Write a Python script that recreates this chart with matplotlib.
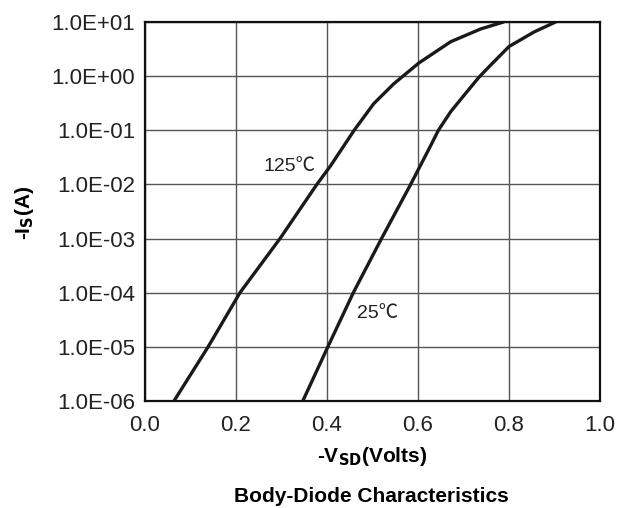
"""
Body-diode forward characteristics: -Is vs -Vsd at 25C and 125C.
"""

import numpy as np
import matplotlib.pyplot as plt

plt.rcParams["font.family"] = ["Liberation Sans", "DejaVu Sans"]

# curve readings (volts, amps)
v_125 = [0.064, 0.139, 0.209, 0.297, 0.378, 0.408, 0.46, 0.503, 0.547, 0.602, 0.672, 0.738, 0.789]
i_125 = [1e-6, 1e-5, 1e-4, 1e-3, 1e-2, 2.2e-2, 0.1, 0.31, 0.72, 1.74, 4.3, 7.4, 10.0]

v_25 = [0.347, 0.402, 0.458, 0.52, 0.584, 0.628, 0.645, 0.672, 0.704, 0.734, 0.76, 0.80, 0.855, 0.903]
i_25 = [1e-6, 1e-5, 1e-4, 1e-3, 1e-2, 5.2e-2, 0.1, 0.22, 0.47, 0.95, 1.6, 3.5, 6.5, 10.0]

x_ticks = [0.0, 0.2, 0.4, 0.6, 0.8, 1.0]
y_ticks = [1e-6, 1e-5, 1e-4, 1e-3, 1e-2, 1e-1, 1e0, 1e1]
y_tick_labels = ["1.0E-06", "1.0E-05", "1.0E-04", "1.0E-03",
                 "1.0E-02", "1.0E-01", "1.0E+00", "1.0E+01"]


def main():
    fig = plt.figure(figsize=(6.27, 5.08), dpi=100)
    ax = fig.add_axes([0.231, 0.2106, 0.726, 0.7464])

    for v, i in ((v_125, i_125), (v_25, i_25)):
        ax.plot(v, i, color="#1a1a1a", linewidth=2.4,
                solid_capstyle="butt", solid_joinstyle="round")

    ax.set_yscale("log")
    ax.set_xlim(0, 1.0)
    ax.set_ylim(1e-6, 1e1)
    ax.set_xticks(x_ticks)
    ax.set_xticklabels([f"{x:.1f}" for x in x_ticks], fontsize=16)
    ax.set_yticks(y_ticks)
    ax.set_yticklabels(y_tick_labels, fontsize=16)
    ax.minorticks_off()
    ax.tick_params(length=0, colors="#222222")
    ax.tick_params(axis="y", pad=7)
    ax.tick_params(axis="x", pad=10)

    ax.grid(True, color="#555555", linewidth=1.0)
    for s in ax.spines.values():
        s.set_linewidth(1.6)
        s.set_color("#111111")

    ax.text(0.26, 2.14e-2, "125\u2103", fontsize=14, va="center", ha="left",
            color="#222222", family=["Liberation Sans", "Noto Sans CJK SC"])
    ax.text(0.467, 4.2e-5, "25\u2103", fontsize=14, va="center", ha="left",
            color="#222222", family=["Liberation Sans", "Noto Sans CJK SC"])

    # axis titles placed on the figure so they sit where the sheet has them
    fig.text(0.594, 1 - 457 / 508, r"-V$_\mathbf{SD}$(Volts)", fontsize=15,
             fontweight="bold", ha="center", va="center")
    fig.text(24 / 627, 1 - 213 / 508, r"-I$_\mathbf{S}$(A)", fontsize=15,
             fontweight="bold", ha="center", va="center", rotation=90)
    fig.text(0.592, 1 - 497 / 508, "Body-Diode Characteristics", fontsize=15,
             fontweight="bold", ha="center", va="center")

    fig.savefig("out.png", dpi=100)
    plt.close(fig)


if __name__ == "__main__":
    main()
